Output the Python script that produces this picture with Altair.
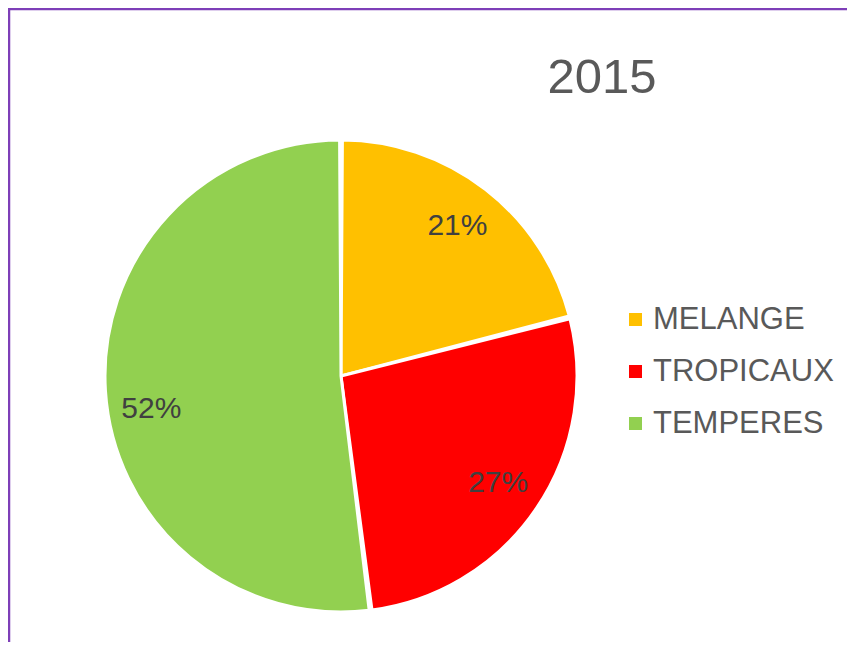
import altair as alt
import pandas as pd

categories = ["MELANGE", "TROPICAUX", "TEMPERES"]
values = [21, 27, 52]
labels = ["21%", "27%", "52%"]
colors = ["#FFC000", "#FF0000", "#92D050"]
title_text = "2015"

df = pd.DataFrame({"cat": categories, "value": values, "label": labels, "idx": [0, 1, 2]})

CX, CY, R = 327, 362, 236
FONT = "Liberation Sans"

pie = alt.Chart(df).mark_arc(padAngle=0.012, stroke="white", strokeWidth=3).encode(
    theta=alt.Theta("value:Q", stack=True),
    order=alt.Order("idx:Q"),
    x=alt.value(CX), y=alt.value(CY),
    radius=alt.value(R),
    color=alt.Color(
        "cat:N",
        scale=alt.Scale(domain=categories, range=colors),
        sort=categories,
        legend=alt.Legend(
            title=None, orient="none", legendX=606, legendY=290,
            symbolType="square", symbolSize=170, symbolStrokeWidth=0,
            labelFont=FONT, labelFontSize=31, labelColor="#595959",
            rowPadding=20, labelOffset=2, padding=0, labelLimit=400,
        ),
    ),
)

lbl_base = alt.Chart(df).transform_window(
    cum="sum(value)", sort=[alt.SortField("idx")]
).transform_calculate(
    mid="datum.cum - datum.value / 2"
)

text_main = lbl_base.transform_filter(alt.datum.idx < 2).mark_text(
    font=FONT, fontSize=30, color="#404040", radius=190
).encode(
    theta=alt.Theta("mid:Q", stack=None),
    x=alt.value(CX), y=alt.value(CY),
    text="label:N",
)

text_big = lbl_base.transform_filter(alt.datum.idx == 2).mark_text(
    font=FONT, fontSize=30, color="#404040", radius=190, dy=21
).encode(
    theta=alt.Theta("mid:Q", stack=None),
    x=alt.value(CX), y=alt.value(CY),
    text="label:N",
)

title = alt.Chart(pd.DataFrame({"t": [title_text]})).mark_text(
    font=FONT, fontSize=49, color="#595959", baseline="middle", align="center"
).encode(x=alt.value(588), y=alt.value(64), text="t:N")

border_df = pd.DataFrame({"k": [0]})
top_rule = alt.Chart(border_df).mark_rule(color="#7E3FB8", strokeWidth=2.5).encode(
    x=alt.value(-6), x2=alt.value(900), y=alt.value(-5)
)
left_rule = alt.Chart(border_df).mark_rule(color="#7E3FB8", strokeWidth=2.5).encode(
    x=alt.value(-5), y=alt.value(-6), y2=alt.value(700)
)

chart = alt.layer(pie, text_main, text_big, title, top_rule, left_rule).properties(
    width=833, height=628,
    autosize=alt.AutoSizeParams(type="none"),
    padding={"left": 6, "top": 6, "right": 0, "bottom": 0},
).configure_view(stroke=None)

chart.save("out.html", embed_options={"renderer": "svg", "actions": False})
